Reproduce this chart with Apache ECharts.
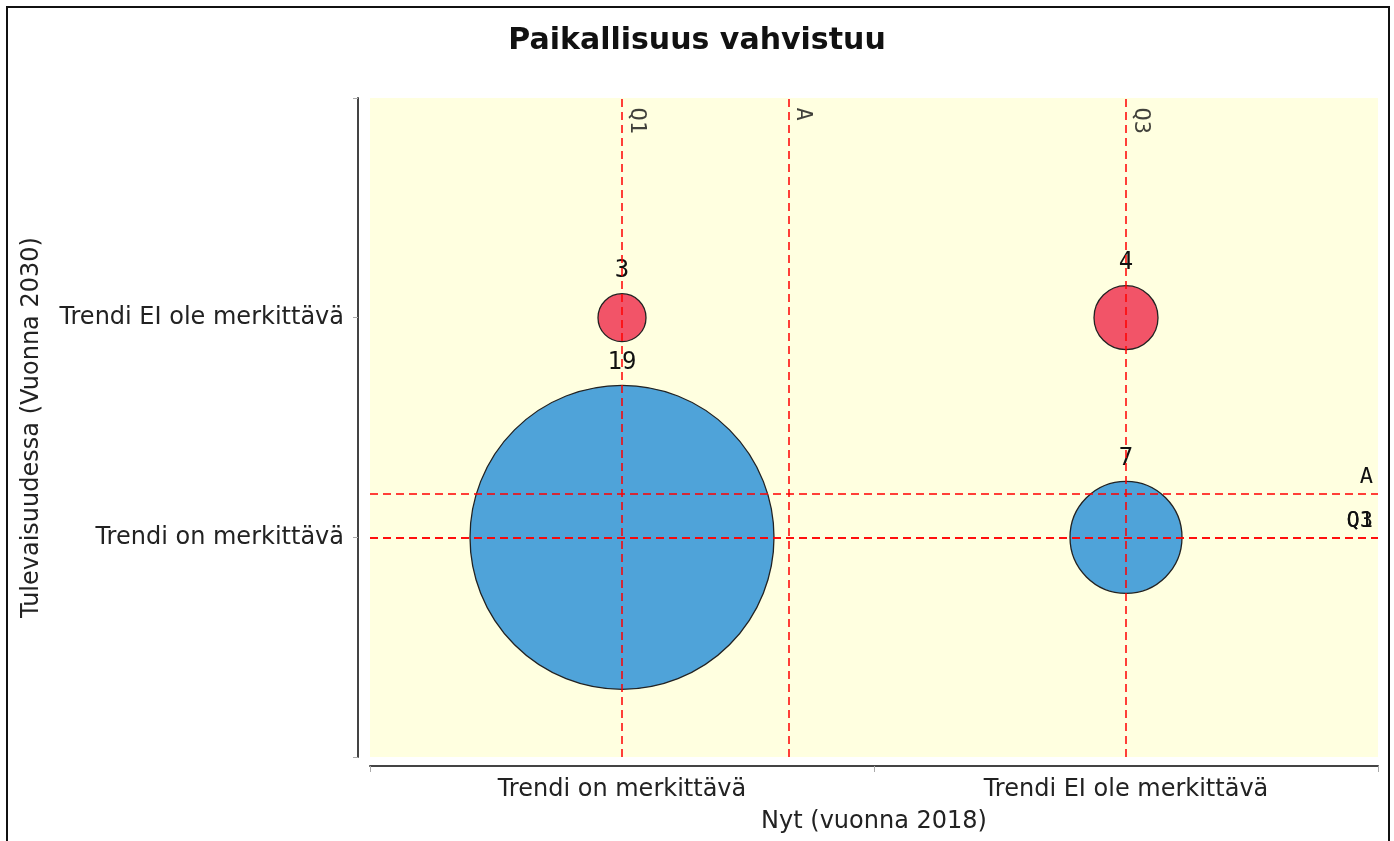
<!DOCTYPE html>
<html>
<head>
<meta charset="utf-8">
<title>Paikallisuus vahvistuu</title>
<script src="https://cdn.jsdelivr.net/npm/echarts@6.0.0/dist/echarts.min.js"></script>
<style>
  html, body { margin: 0; padding: 0; background: #ffffff; }
  #main { width: 1394px; height: 841px; }
</style>
</head>
<body>
<div id="main"></div>
<script>
// kategoriat
const xCategories = ['Trendi on merkittävä', 'Trendi EI ole merkittävä']
const yCategories = ['Trendi on merkittävä', 'Trendi EI ole merkittävä']
// [x, y, lukumäärä]
const futureSignificant = [[0, 0, 19], [1, 0, 7]]
const futureNotSignificant = [[0, 1, 3], [1, 1, 4]]
// apuviivat
const xRefNames = ['Q1', 'A', 'Q3']
const xRefValues = [0, 0.33, 1]
const yRefNames = ['A', 'Q1', 'Q3']
const yRefValues = [0.2, 0, 0]

const monoFont = 'DejaVu Sans Mono'
const sansFont = 'DejaVu Sans'

const chart = echarts.init(document.getElementById('main'))

const bubbleLabel = {
  show: true,
  position: 'top',
  distance: 10,
  formatter: (p) => p.value[2],
  fontFamily: monoFont,
  fontSize: 24,
  color: '#111'
}

const option = {
  animation: false,
  backgroundColor: '#ffffff',
  title: {
    text: 'Paikallisuus vahvistuu',
    left: 'center',
    top: 21,
    textStyle: { fontFamily: sansFont, fontSize: 30, fontWeight: 'bold', color: '#111' }
  },
  graphic: [
    {
      type: 'rect',
      shape: { x: 7, y: 7, width: 1382, height: 860 },
      style: { fill: null, stroke: '#111', lineWidth: 2 },
      silent: true
    }
  ],
  grid: {
    left: 370,
    right: 16,
    top: 98,
    bottom: 84,
    show: true,
    backgroundColor: '#ffffe0',
    borderWidth: 0
  },
  xAxis: {
    type: 'value',
    min: -0.5,
    max: 1.5,
    offset: 9,
    name: 'Nyt (vuonna 2018)',
    nameLocation: 'middle',
    nameGap: 44,
    nameTextStyle: { fontFamily: sansFont, fontSize: 24, color: '#222' },
    axisLine: { show: true, onZero: false, lineStyle: { color: '#444', width: 2 } },
    axisTick: { show: true, customValues: [-0.5, 0.5, 1.5], length: 6, lineStyle: { color: '#aaa' } },
    axisLabel: {
      customValues: [0, 1],
      formatter: (v) => xCategories[Math.round(v)],
      fontFamily: sansFont,
      fontSize: 24,
      color: '#222',
      margin: 12
    },
    splitLine: { show: false }
  },
  yAxis: {
    type: 'value',
    min: -1,
    max: 2,
    offset: 12,
    name: 'Tulevaisuudessa (Vuonna 2030)',
    nameLocation: 'middle',
    nameGap: 314,
    nameTextStyle: { fontFamily: sansFont, fontSize: 24, color: '#222' },
    axisLine: { show: true, onZero: false, lineStyle: { color: '#444', width: 2 } },
    axisTick: { show: true, customValues: [-1, 0, 1, 2], length: 5, lineStyle: { color: '#aaa' } },
    axisLabel: {
      customValues: [0, 1],
      formatter: (v) => yCategories[Math.round(v)],
      fontFamily: sansFont,
      fontSize: 24,
      color: '#222',
      margin: 14
    },
    splitLine: { show: false }
  },
  series: [
    {
      name: 'Trendi on merkittävä',
      type: 'scatter',
      data: futureSignificant,
      symbolSize: (d) => d[2] * 16,
      itemStyle: { color: '#4fa3d9', borderColor: '#222', borderWidth: 1.3, opacity: 1 },
      label: bubbleLabel,
      z: 2
    },
    {
      name: 'Trendi EI ole merkittävä',
      type: 'scatter',
      data: futureNotSignificant,
      symbolSize: (d) => d[2] * 16,
      itemStyle: { color: '#f25468', borderColor: '#222', borderWidth: 1.3, opacity: 1 },
      label: bubbleLabel,
      z: 2
    },
    {
      // apuviivat ja pystyviivojen tekstit
      name: 'apuviivat',
      type: 'scatter',
      clip: false,
      silent: true,
      symbolSize: 1,
      itemStyle: { color: 'transparent' },
      data: xRefValues.map((v, i) => ({ value: [v, 2], name: xRefNames[i] })),
      label: {
        show: true,
        formatter: (p) => p.name,
        rotate: -90,
        position: [4, 10],
        align: 'left',
        verticalAlign: 'bottom',
        fontFamily: monoFont,
        fontSize: 22,
        color: '#111'
      },
      markLine: {
        silent: true,
        symbol: ['none', 'none'],
        z: 5,
        lineStyle: { color: '#ff0000', type: [8, 5], width: 1.5 },
        label: {
          show: true,
          position: 'insideEndTop',
          fontFamily: monoFont,
          fontSize: 22,
          color: '#111'
        },
        data: [
          ...xRefValues.map((v, i) => ({ xAxis: v, name: xRefNames[i], label: { show: false } })),
          ...yRefValues.map((v, i) => ({ yAxis: v, name: yRefNames[i], label: { formatter: yRefNames[i] } }))
        ]
      }
    }
  ]
}

chart.setOption(option)
</script>
</body>
</html>
